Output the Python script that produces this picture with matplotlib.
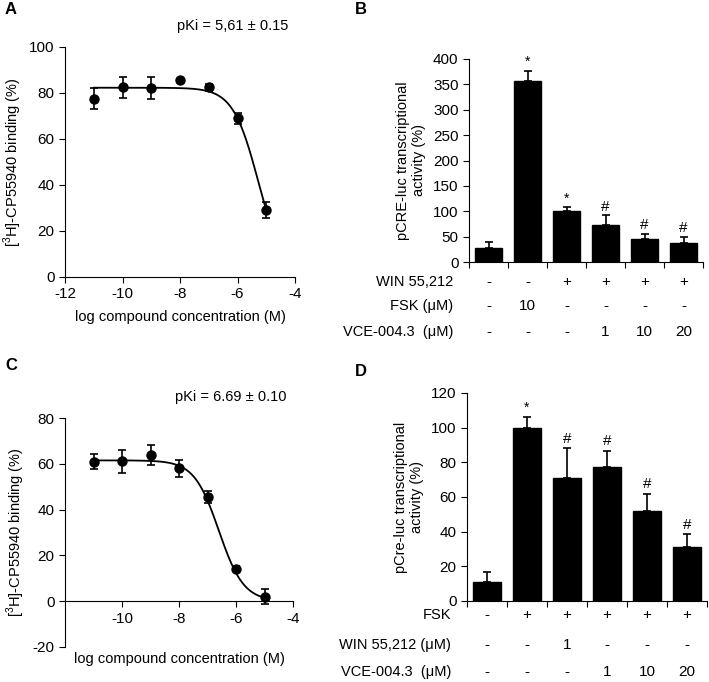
import numpy as np
import matplotlib.pyplot as plt
import matplotlib.transforms as mtransforms

plt.rcParams['font.family'] = ['Liberation Sans', 'DejaVu Sans']
plt.rcParams['mathtext.fontset'] = 'custom'
plt.rcParams['mathtext.rm'] = 'Liberation Sans'
plt.rcParams['axes.unicode_minus'] = False
plt.rcParams['font.size'] = 10

# panel A: binding, first compound
logc_a = [-11, -10, -9, -8, -7, -6, -5]
bind_a = [77.5, 82.5, 82.2, 85.6, 82.4, 69.0, 29.0]
err_a = [4.5, 4.5, 4.7, 0.0, 1.5, 2.5, 3.5]
fit_a = dict(top=82.3, bottom=0.0, logic50=-5.27, hill=0.98)

# panel C: binding, second compound
logc_c = [-11, -10, -9, -8, -7, -6, -5]
bind_c = [61.0, 61.2, 63.8, 58.0, 45.5, 14.2, 2.0]
err_c = [3.2, 5.0, 4.2, 3.8, 2.5, 1.0, 3.2]
fit_c = dict(top=61.5, bottom=0.0, logic50=-6.6, hill=1.0)

# panel B: pCRE-luc activity
vals_b = [28, 356, 100, 73, 45, 37]
errs_b = [11, 21, 8, 19, 11, 13]
marks_b = ['', '*', '*', '#', '#', '#']
rows_b = ['WIN 55,212', 'FSK (μM)', 'VCE-004.3  (μM)']
table_b = [['-', '-', '+', '+', '+', '+'],
           ['-', '10', '-', '-', '-', '-'],
           ['-', '-', '-', '1', '10', '20']]

# panel D: pCre-luc activity
vals_d = [11, 100, 71, 77.5, 52, 31]
errs_d = [6, 6, 17, 9, 10, 7.5]
marks_d = ['', '*', '#', '#', '#', '#']
rows_d = ['FSK', 'WIN 55,212 (μM)', 'VCE-004.3  (μM)']
table_d = [['-', '+', '+', '+', '+', '+'],
           ['-', '-', '1', '-', '-', '-'],
           ['-', '-', '-', '1', '10', '20']]

fig = plt.figure(figsize=(7.09, 6.82), dpi=100)
W, H = 709.0, 682.0


def box(l, r, b, t):
    return [l / W, 1 - b / H, (r - l) / W, (b - t) / H]


def sigmoid(x, top, bottom, logic50, hill):
    return bottom + (top - bottom) / (1 + 10 ** ((x - logic50) * hill))


def binding_panel(ax, x, y, e, fit, ylim, yticks, xticks, pki):
    xs = np.linspace(min(x), max(x), 300)
    ax.plot(xs, sigmoid(xs, **fit), color='black', lw=1.3)
    ax.errorbar(x, y, yerr=e, fmt='o', color='black', ms=6.5,
                capsize=3, elinewidth=1.2, capthick=1.2)
    ax.set_xlim(-12, -4)
    ax.set_ylim(*ylim)
    ax.set_yticks(yticks)
    ax.set_xticks(xticks)
    ax.spines['top'].set_visible(False)
    ax.spines['right'].set_visible(False)
    ax.tick_params(direction='out', length=4, labelsize=11)
    ax.set_ylabel('[$^{3}$H]-CP55940 binding (%)', fontsize=10.5)
    ax.text(0.97, 1.06, pki, transform=ax.transAxes, ha='right',
            va='bottom', fontsize=10.5)


def bar_panel(ax, vals, errs, marks, ylim, yticks, ystep, ylabel, rows,
              table, row_ys, xmin, xmax, label_x):
    pos = np.arange(len(vals))
    ax.bar(pos, vals, width=0.7, color='black', edgecolor='black')
    ax.errorbar(pos, vals, yerr=[np.zeros(len(vals)), errs], fmt='none',
                ecolor='black', capsize=3, elinewidth=1.2, capthick=1.2)
    for p, v, er, m in zip(pos, vals, errs, marks):
        if m:
            ax.text(p, v + er + ystep, m, ha='center', va='bottom',
                    fontsize=11 if m == '#' else 10)
    ax.set_xlim(xmin, xmax)
    ax.set_ylim(*ylim)
    ax.set_yticks(yticks)
    ax.set_xticks(np.arange(-0.5, len(vals) + 0.5, 1.0))
    ax.set_xticklabels([])
    ax.spines['top'].set_visible(False)
    ax.spines['right'].set_visible(False)
    ax.tick_params(direction='out', length=4, labelsize=11)
    ax.set_ylabel(ylabel, fontsize=10.5, labelpad=5)
    tr = mtransforms.blended_transform_factory(ax.transData, fig.transFigure)
    for row, name, yy in zip(table, rows, row_ys):
        fig.text(label_x / W, 1 - yy / H, name, ha='right', va='center',
                 fontsize=10.5)
        for p, s in zip(pos, row):
            ax.text(p, 1 - yy / H, s, transform=tr, ha='center',
                    va='center', fontsize=11)


ax_a = fig.add_axes(box(65, 295, 277, 47))
binding_panel(ax_a, logc_a, bind_a, err_a, fit_a, (0, 100),
              [0, 20, 40, 60, 80, 100], [-12, -10, -8, -6, -4],
              'pKi = 5,61 ± 0.15')
ax_a.set_xlabel('log compound concentration (M)', fontsize=10.5, labelpad=6)

ax_c = fig.add_axes(box(65, 293, 647, 418))
binding_panel(ax_c, logc_c, bind_c, err_c, fit_c, (-20, 80),
              [-20, 0, 20, 40, 60, 80], [-10, -8, -6, -4],
              'pKi = 6.69 ± 0.10')
ax_c.spines['bottom'].set_position(('data', 0))
ax_c.text(0.5, -0.02, 'log compound concentration (M)', transform=ax_c.transAxes,
          ha='center', va='top', fontsize=10.5)

ax_b = fig.add_axes(box(469, 703, 262, 59))
bar_panel(ax_b, vals_b, errs_b, marks_b, (0, 400), range(0, 401, 50), 3,
          'pCRE-luc transcriptional\nactivity (%)', rows_b, table_b,
          [282, 306, 332], -0.48, 5.38, 453)

ax_d = fig.add_axes(box(467, 707, 601, 393))
bar_panel(ax_d, vals_d, errs_d, marks_d, (0, 120), range(0, 121, 20), 1.5,
          'pCre-luc transcriptional\nactivity (%)', rows_d, table_d,
          [615, 645, 672], -0.5, 5.5, 451)

for lab, x, y in [('A', 5, 10), ('B', 355, 10), ('C', 5, 365), ('D', 355, 371)]:
    fig.text(x / W, 1 - y / H, lab, ha='left', va='center', fontsize=12,
             fontweight='bold')

fig.savefig('out.png', dpi=100)
